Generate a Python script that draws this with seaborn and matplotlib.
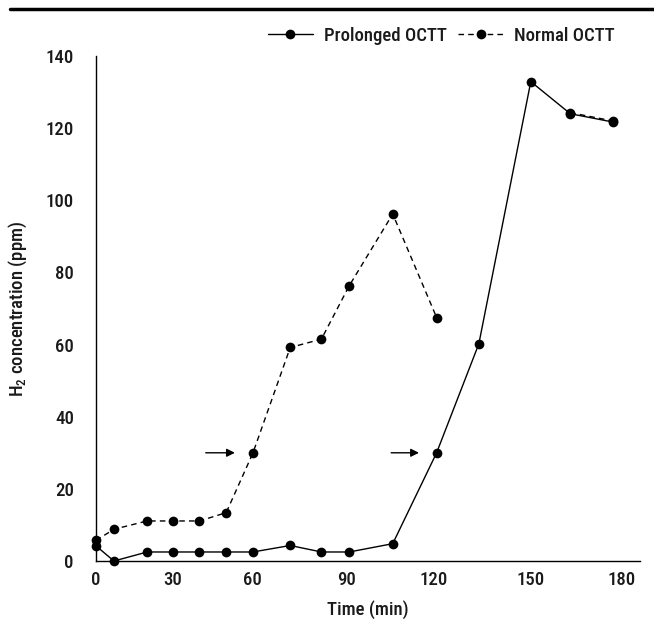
import numpy as np
import pandas as pd
import matplotlib
matplotlib.use("Agg")
import matplotlib.pyplot as plt
from matplotlib.lines import Line2D
import seaborn as sns

# data
time_min = [0, 7, 20, 30, 40, 50, 60, 72, 82, 91, 106, 121, 134, 150, 163, 177]
prolonged = [4.2, 0, 2.5, 2.5, 2.5, 2.5, 2.5, 4.3, 2.5, 2.5, 4.8, 30, 60.2, 132.9, 124, 121.7]
normal = [5.7, 8.8, 11.1, 11.1, 11.1, 13.4, 29.9, 59.2, 61.5, 76.3, 96.2, 67.5,
          np.nan, np.nan, 124.3, 122.0]
x_ticks = [0, 30, 60, 90, 120, 150, 180]
y_ticks = [0, 20, 40, 60, 80, 100, 120, 140]

# the time axis in the original is not evenly spaced
tick_pos = [-80, 95.7, 172.7, 253, 346.7, 434, 531.7, 623, 714]
tick_val = [-30] + x_ticks + [210]


def fwd(x):
    return np.interp(x, tick_val, tick_pos)


def inv(x):
    return np.interp(x, tick_pos, tick_val)


rows = []
for name, vals in [("Prolonged OCTT", prolonged), ("Normal OCTT", normal)]:
    seg = 0
    for t, v in zip(time_min, vals):
        if np.isnan(v):
            seg += 1
            continue
        rows.append({"time": t, "h2": v, "group": name, "seg": f"{name}{seg}"})
df = pd.DataFrame(rows)

main_font = "Roboto Condensed"
sns.set_style("white")
plt.rcParams["font.family"] = [main_font, "DejaVu Sans"]
plt.rcParams["font.weight"] = 500
plt.rcParams["axes.labelweight"] = 500
plt.rcParams["mathtext.fontset"] = "custom"
plt.rcParams["mathtext.rm"] = main_font + ":medium"
plt.rcParams["mathtext.it"] = main_font + ":medium"

fs = 13.5
ink = "#1a1a1a"

fig = plt.figure(figsize=(6.54, 6.27), dpi=100)
ax = fig.add_axes([96 / 654, 1 - 561 / 627, (640 - 96) / 654, (561 - 56) / 627])
ax.set_xscale("function", functions=(fwd, inv))

sns.lineplot(data=df, x="time", y="h2", style="group", units="seg", estimator=None,
             color="black", markers={"Prolonged OCTT": "o", "Normal OCTT": "o"},
             dashes={"Prolonged OCTT": "", "Normal OCTT": (4, 3)},
             markersize=7, markeredgewidth=0, linewidth=1.0, ax=ax, legend=False)
for ln in ax.lines:
    ln.set_clip_on(False)

ax.annotate("", xy=(54.3, 30), xytext=(41.3, 30),
            arrowprops=dict(arrowstyle="-|>", color="black", lw=1, mutation_scale=12))
ax.annotate("", xy=(116, 30), xytext=(104.5, 30),
            arrowprops=dict(arrowstyle="-|>", color="black", lw=1, mutation_scale=12))

ax.set_xlim(0, 186)
ax.set_ylim(0, 140)
ax.set_xticks(x_ticks)
ax.set_xticklabels([str(v) for v in x_ticks])
ax.set_yticks(y_ticks)
ax.set_yticklabels([str(v) for v in y_ticks])
ax.tick_params(axis="both", length=0, labelsize=fs, colors=ink, pad=7)
ax.tick_params(axis="y", pad=16)
sns.despine(ax=ax)
for s in ["left", "bottom"]:
    ax.spines[s].set_color("black")
    ax.spines[s].set_linewidth(1.0)

ax.set_xlabel("Time (min)", fontsize=fs, color=ink, labelpad=8)
ax.set_ylabel("H$_2$ concentration (ppm)", fontsize=fs, color=ink, labelpad=12)

handles = [
    Line2D([], [], color="black", lw=1, marker="o", markersize=7, markeredgewidth=0),
    Line2D([], [], color="black", lw=1, ls=(0, (4, 3)), marker="o", markersize=7,
           markeredgewidth=0),
]
fig.legend(handles, ["Prolonged OCTT", "Normal OCTT"], loc="center right",
           bbox_to_anchor=(632 / 654, 1 - 36 / 627), ncol=2, frameon=False,
           fontsize=fs, handlelength=2.4, columnspacing=0.6, handletextpad=0.6,
           labelcolor=ink)

fig.add_artist(Line2D([10 / 654, 1], [1 - 8.5 / 627] * 2, color="black", lw=2.5))

fig.savefig("out.png", dpi=100)
